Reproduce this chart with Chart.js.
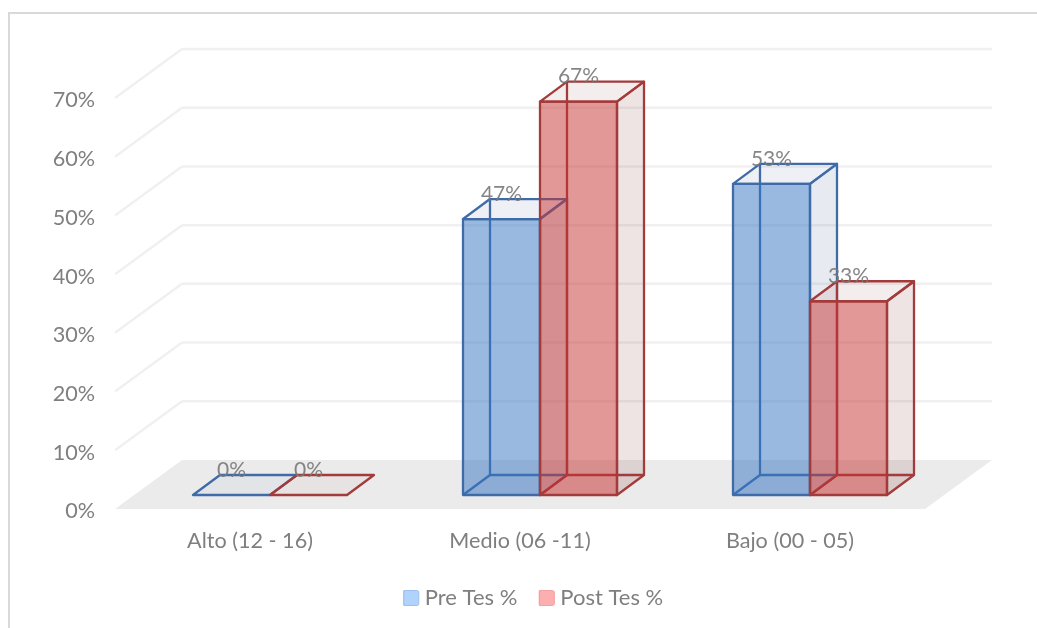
<!DOCTYPE html>
<html>
<head>
<meta charset="utf-8">
<title>Pre Tes / Post Tes</title>
<script src="https://cdn.jsdelivr.net/npm/chart.js@4"></script>
<style>
  html, body { margin: 0; padding: 0; background: #fff; }
  canvas { display: block; }
</style>
</head>
<body>
<canvas id="chart" width="1037" height="628"></canvas>
<script>
// datos de la grafica
const categories = ['Alto (12 - 16)', 'Medio (06 -11)', 'Bajo (00 - 05)'];
const preTes = [0, 47, 53];
const postTes = [0, 67, 33];
const yTicks = [0, 10, 20, 30, 40, 50, 60, 70];

const FONT = 'Lato, Carlito, "Open Sans", sans-serif';
const FONT_SIZE = 21.6;
const LEGEND_SIZE = 22;
const GREY = '#7f7f7f';

// profundidad del suelo y de las barras
const FLOOR = { dx: 67, dy: -49 };
const BAR_OFFSET = { dx: 20, dy: -14 };
const BAR_DEPTH = { dx: 27, dy: -20 };

const skins = [
  { line: '#3f6ca8', front: 'rgba(53,115,193,0.5)', top: 'rgba(70,90,140,0.09)', side: 'rgba(70,100,150,0.13)', floor: 'rgba(70,100,170,0.05)' },
  { line: '#a33b3b', front: 'rgba(199,49,49,0.5)', top: 'rgba(130,60,60,0.09)', side: 'rgba(120,50,50,0.13)', floor: 'rgba(170,60,60,0.04)' }
];

function poly(ctx, pts, fill, stroke) {
  ctx.beginPath();
  pts.forEach((p, i) => (i ? ctx.lineTo(p[0], p[1]) : ctx.moveTo(p[0], p[1])));
  ctx.closePath();
  if (fill) { ctx.fillStyle = fill; ctx.fill(); }
  if (stroke) { ctx.strokeStyle = stroke; ctx.stroke(); }
}

function seg(ctx, x1, y1, x2, y2) {
  ctx.beginPath();
  ctx.moveTo(x1, y1);
  ctx.lineTo(x2, y2);
  ctx.stroke();
}

// suelo y lineas de division en las dos paredes
function drawWalls(chart) {
  const { ctx, chartArea: a, scales } = chart;
  const y = scales.y;
  poly(ctx, [
    [a.left, a.bottom], [a.right, a.bottom],
    [a.right + FLOOR.dx, a.bottom + FLOOR.dy], [a.left + FLOOR.dx, a.bottom + FLOOR.dy]
  ], '#ebebeb');
  ctx.strokeStyle = '#f0f0f0';
  ctx.lineWidth = 2.5;
  yTicks.forEach(v => {
    if (v === 0) return;
    const py = y.getPixelForValue(v);
    seg(ctx, a.left, py, a.left + FLOOR.dx, py + FLOOR.dy);
    seg(ctx, a.left + FLOOR.dx, py + FLOOR.dy, a.right + FLOOR.dx, py + FLOOR.dy);
  });
}

// prisma de una barra: caras de atras primero, frente al final
function drawBox(ctx, bar, s) {
  const l = bar.x - bar.width / 2 + BAR_OFFSET.dx;
  const r = bar.x + bar.width / 2 + BAR_OFFSET.dx;
  const t = bar.y + BAR_OFFSET.dy;
  const b = bar.base + BAR_OFFSET.dy;
  const dx = BAR_DEPTH.dx, dy = BAR_DEPTH.dy;
  ctx.lineWidth = 2.3;
  ctx.lineJoin = 'round';

  poly(ctx, [[l, b], [r, b], [r + dx, b + dy], [l + dx, b + dy]], s.floor);
  if (b - t > 0) {
    poly(ctx, [[r, t], [r + dx, t + dy], [r + dx, b + dy], [r, b]], s.side);
    poly(ctx, [[l, t], [r, t], [r + dx, t + dy], [l + dx, t + dy]], s.top);
    ctx.strokeStyle = s.line;
    seg(ctx, l + dx, t + dy, l + dx, b + dy);
    seg(ctx, l + dx, b + dy, r + dx, b + dy);
    seg(ctx, l, b, l + dx, b + dy);
    poly(ctx, [[l, t], [r, t], [r, b], [l, b]], s.front);
    poly(ctx, [[l, t], [r, t], [r + dx, t + dy], [l + dx, t + dy]], null, s.line);
    poly(ctx, [[r, t], [r + dx, t + dy], [r + dx, b + dy], [r, b]], null, s.line);
    poly(ctx, [[l, t], [r, t], [r, b], [l, b]], null, s.line);
  } else {
    poly(ctx, [[l, b], [r, b], [r + dx, b + dy], [l + dx, b + dy]], null, s.line);
  }
}

const box3d = {
  id: 'box3d',
  afterLayout(chart) {
    // la leyenda va a la derecha del centro del area
    chart.legend.left += 71;
    chart.legend.right += 71;
    chart.legend.top = 565;
  },
  beforeDraw(chart) {
    const ctx = chart.ctx;
    ctx.save();
    ctx.strokeStyle = '#d9d9d9';
    ctx.lineWidth = 2;
    ctx.strokeRect(9, 13, 1060, 640);
    ctx.restore();
  },
  beforeDatasetsDraw(chart) {
    const ctx = chart.ctx;
    ctx.save();
    drawWalls(chart);
    chart.data.datasets.forEach((ds, i) => {
      chart.getDatasetMeta(i).data.forEach(bar => drawBox(ctx, bar, skins[i]));
    });
    // etiquetas de valor
    ctx.font = '21px ' + FONT;
    ctx.fillStyle = 'rgba(120,120,120,0.9)';
    ctx.textAlign = 'center';
    ctx.textBaseline = 'middle';
    chart.data.datasets.forEach((ds, i) => {
      chart.getDatasetMeta(i).data.forEach((bar, j) => {
        ctx.fillText(ds.data[j] + '%', bar.x + BAR_OFFSET.dx, bar.y + BAR_OFFSET.dy - 25);
      });
    });
    ctx.restore();
    return false;
  },
  afterDraw(chart) {
    // cuadros de la leyenda, mas anchos que el hueco que deja la libreria
    const ctx = chart.ctx;
    ctx.save();
    chart.legend.legendHitBoxes.forEach((hit, i) => {
      const ds = chart.data.datasets[i];
      ctx.beginPath();
      ctx.roundRect(hit.left, hit.top + LEGEND_SIZE / 2 - 7.5, 15, 15, 2);
      ctx.fillStyle = ds.backgroundColor;
      ctx.fill();
      ctx.lineWidth = 1;
      ctx.strokeStyle = ds.borderColor;
      ctx.stroke();
    });
    ctx.restore();
  }
};

new Chart(document.getElementById('chart'), {
  type: 'bar',
  data: {
    labels: categories,
    datasets: [
      { label: 'Pre Tes %', data: preTes, backgroundColor: '#afd3fc', borderColor: '#9dc0ea', borderWidth: 1 },
      { label: 'Post Tes %', data: postTes, backgroundColor: '#fdaeae', borderColor: '#f0a2a2', borderWidth: 1 }
    ]
  },
  options: {
    responsive: false,
    animation: false,
    layout: { padding: { top: 98, right: 112, left: 0, bottom: 0 } },
    datasets: { bar: { categoryPercentage: 154 / 270, barPercentage: 1 } },
    scales: {
      x: {
        grid: { display: false },
        border: { display: false },
        ticks: { color: GREY, font: { family: FONT, size: FONT_SIZE }, padding: 11, maxRotation: 0 },
        afterFit(s) { s.height = 65; }
      },
      y: {
        min: 0,
        max: 70,
        grid: { display: false, drawTicks: false },
        border: { display: false },
        ticks: {
          color: GREY,
          font: { family: FONT, size: FONT_SIZE },
          padding: 20,
          labelOffset: 2.5,
          stepSize: 10,
          callback: v => v + '%'
        },
        afterFit(s) { s.width = 115; }
      }
    },
    plugins: {
      tooltip: { enabled: false },
      title: { display: false },
      legend: {
        position: 'bottom',
        labels: {
          color: GREY,
          boxWidth: 10,
          boxHeight: 15,
          padding: 22,
          font: { family: FONT, size: LEGEND_SIZE }
        }
      }
    }
  },
  plugins: [box3d]
});
</script>
</body>
</html>
